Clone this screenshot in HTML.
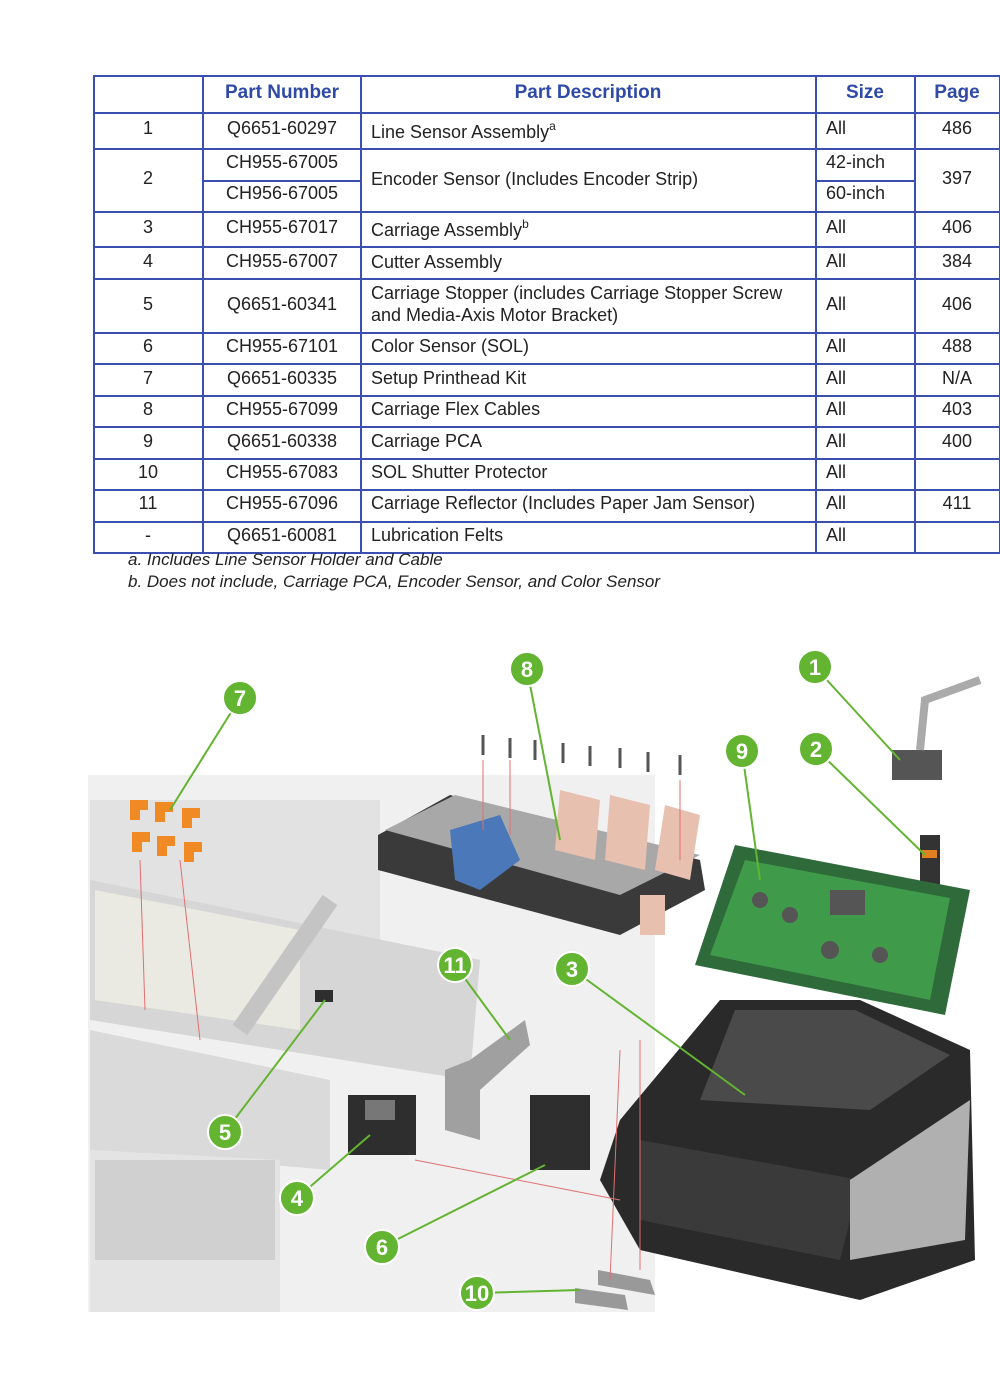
<!DOCTYPE html>
<html><head><meta charset="utf-8"><style>
html,body{margin:0;padding:0;background:#fff;width:1000px;height:1392px;overflow:hidden}
svg{display:block}
.h{font:bold 19px "Liberation Sans",sans-serif;fill:#2f4aa6}
.t{font:18px "Liberation Sans",sans-serif;fill:#222}
.n{font:italic 17px "Liberation Sans",sans-serif;fill:#222}
.c{font:bold 22px "Liberation Sans",sans-serif;fill:#fff}
</style></head><body>
<svg width="1000" height="1392" viewBox="0 0 1000 1392">
<g stroke="#3a4fb0" stroke-width="2" fill="none">
<rect x="94" y="76" width="906" height="477"/>
<line x1="203" y1="76" x2="203" y2="553"/><line x1="361" y1="76" x2="361" y2="553"/>
<line x1="816" y1="76" x2="816" y2="553"/><line x1="915" y1="76" x2="915" y2="553"/>
<line x1="94" y1="113" x2="1000" y2="113"/><line x1="94" y1="149" x2="1000" y2="149"/>
<line x1="203" y1="181" x2="361" y2="181"/><line x1="816" y1="181" x2="915" y2="181"/>
<line x1="94" y1="212" x2="1000" y2="212"/><line x1="94" y1="247" x2="1000" y2="247"/>
<line x1="94" y1="279" x2="1000" y2="279"/><line x1="94" y1="333" x2="1000" y2="333"/>
<line x1="94" y1="364" x2="1000" y2="364"/><line x1="94" y1="396" x2="1000" y2="396"/>
<line x1="94" y1="427" x2="1000" y2="427"/><line x1="94" y1="459" x2="1000" y2="459"/>
<line x1="94" y1="490" x2="1000" y2="490"/><line x1="94" y1="522" x2="1000" y2="522"/>
</g>
<text class="h" x="282" y="98" text-anchor="middle">Part Number</text>
<text class="h" x="588" y="98" text-anchor="middle">Part Description</text>
<text class="h" x="865" y="98" text-anchor="middle">Size</text>
<text class="h" x="957" y="98" text-anchor="middle">Page</text>
<g class="t">
<text x="148" y="134" text-anchor="middle">1</text><text x="282" y="134" text-anchor="middle">Q6651-60297</text><text x="371" y="138">Line Sensor Assembly<tspan font-size="12" dy="-8">a</tspan></text><text x="826" y="134">All</text><text x="957" y="134" text-anchor="middle">486</text>
<text x="148" y="184" text-anchor="middle">2</text><text x="282" y="168" text-anchor="middle">CH955-67005</text><text x="282" y="199" text-anchor="middle">CH956-67005</text><text x="371" y="185">Encoder Sensor (Includes Encoder Strip)</text><text x="826" y="168">42-inch</text><text x="826" y="199">60-inch</text><text x="957" y="184" text-anchor="middle">397</text>
<text x="148" y="233" text-anchor="middle">3</text><text x="282" y="233" text-anchor="middle">CH955-67017</text><text x="371" y="236">Carriage Assembly<tspan font-size="12" dy="-8">b</tspan></text><text x="826" y="233">All</text><text x="957" y="233" text-anchor="middle">406</text>
<text x="148" y="267" text-anchor="middle">4</text><text x="282" y="267" text-anchor="middle">CH955-67007</text><text x="371" y="268">Cutter Assembly</text><text x="826" y="267">All</text><text x="957" y="267" text-anchor="middle">384</text>
<text x="148" y="310" text-anchor="middle">5</text><text x="282" y="310" text-anchor="middle">Q6651-60341</text><text x="371" y="299">Carriage Stopper (includes Carriage Stopper Screw</text><text x="371" y="321">and Media-Axis Motor Bracket)</text><text x="826" y="310">All</text><text x="957" y="310" text-anchor="middle">406</text>
<text x="148" y="352" text-anchor="middle">6</text><text x="282" y="352" text-anchor="middle">CH955-67101</text><text x="371" y="352">Color Sensor (SOL)</text><text x="826" y="352">All</text><text x="957" y="352" text-anchor="middle">488</text>
<text x="148" y="384" text-anchor="middle">7</text><text x="282" y="384" text-anchor="middle">Q6651-60335</text><text x="371" y="384">Setup Printhead Kit</text><text x="826" y="384">All</text><text x="957" y="384" text-anchor="middle">N/A</text>
<text x="148" y="415" text-anchor="middle">8</text><text x="282" y="415" text-anchor="middle">CH955-67099</text><text x="371" y="415">Carriage Flex Cables</text><text x="826" y="415">All</text><text x="957" y="415" text-anchor="middle">403</text>
<text x="148" y="447" text-anchor="middle">9</text><text x="282" y="447" text-anchor="middle">Q6651-60338</text><text x="371" y="447">Carriage PCA</text><text x="826" y="447">All</text><text x="957" y="447" text-anchor="middle">400</text>
<text x="148" y="478" text-anchor="middle">10</text><text x="282" y="478" text-anchor="middle">CH955-67083</text><text x="371" y="478">SOL Shutter Protector</text><text x="826" y="478">All</text>
<text x="148" y="509" text-anchor="middle">11</text><text x="282" y="509" text-anchor="middle">CH955-67096</text><text x="371" y="509">Carriage Reflector (Includes Paper Jam Sensor)</text><text x="826" y="509">All</text><text x="957" y="509" text-anchor="middle">411</text>
<text x="148" y="541" text-anchor="middle">-</text><text x="282" y="541" text-anchor="middle">Q6651-60081</text><text x="371" y="541">Lubrication Felts</text><text x="826" y="541">All</text>
</g>
<text class="n" x="128" y="565">a. Includes Line Sensor Holder and Cable</text>
<text class="n" x="128" y="587">b. Does not include, Carriage PCA, Encoder Sensor, and Color Sensor</text>

<g>
<rect x="88" y="775" width="567" height="537" fill="#f0f0f0"/>
<polygon points="90,800 380,800 380,1000 90,1000" fill="#e2e2e2"/>
<polygon points="90,880 480,960 470,1080 90,1020" fill="#d6d6d6"/>
<polygon points="95,890 300,930 300,1030 95,1000" fill="#eaeae2"/>
<polygon points="90,1030 330,1080 330,1170 90,1150" fill="#dadada"/>
<polygon points="90,1150 280,1160 280,1312 90,1312" fill="#e4e4e4"/>
<path d="M330,900 L240,1030" stroke="#c4c4c4" stroke-width="18" fill="none"/>
<rect x="95" y="1160" width="180" height="100" fill="#d0d0d0"/>
</g>
<g fill="#f08a24">
<path d="M130,800h18v10h-8v10h-10z"/><path d="M155,802h18v10h-8v10h-10z"/><path d="M182,808h18v10h-8v10h-10z"/>
<path d="M132,832h18v10h-8v10h-10z"/><path d="M157,836h18v10h-8v10h-10z"/><path d="M184,842h18v10h-8v10h-10z"/>
</g>
<g stroke="#555" stroke-width="3">
<line x1="483" y1="735" x2="483" y2="755"/><line x1="510" y1="738" x2="510" y2="758"/><line x1="535" y1="740" x2="535" y2="760"/><line x1="563" y1="743" x2="563" y2="763"/><line x1="590" y1="746" x2="590" y2="766"/><line x1="620" y1="748" x2="620" y2="768"/><line x1="648" y1="752" x2="648" y2="772"/><line x1="680" y1="755" x2="680" y2="775"/>
</g>
<polygon points="378,835 450,795 700,860 705,890 620,935 378,870" fill="#3a3a3a"/>
<polygon points="385,830 455,795 700,855 620,895" fill="#a8a8a8"/>
<polygon points="450,830 500,815 520,860 480,890 455,880" fill="#4a78b8"/>
<g fill="#e8c0b0"><polygon points="560,790 600,800 595,860 555,850"/><polygon points="610,795 650,805 645,870 605,860"/><polygon points="665,805 700,815 690,880 655,870"/><rect x="640" y="895" width="25" height="40"/></g>
<rect x="892" y="750" width="50" height="30" fill="#555"/><path d="M920,750 L925,700 L980,680" stroke="#aaa" stroke-width="8" fill="none"/>
<rect x="920" y="835" width="20" height="50" fill="#333"/><rect x="922" y="850" width="15" height="8" fill="#e08020"/>
<polygon points="735,845 970,890 945,1015 695,965" fill="#2f6a3a"/>
<polygon points="745,860 950,898 930,1000 710,955" fill="#3f9a4a"/>
<g fill="#555"><circle cx="760" cy="900" r="8"/><circle cx="790" cy="915" r="8"/><circle cx="830" cy="950" r="9"/><circle cx="880" cy="955" r="8"/><rect x="830" y="890" width="35" height="25"/></g>
<polygon points="720,1000 860,1000 970,1050 975,1260 860,1300 640,1250 600,1180 620,1120" fill="#2a2a2a"/>
<polygon points="735,1010 855,1010 950,1055 870,1110 700,1100" fill="#4a4a4a"/>
<polygon points="640,1140 860,1180 840,1260 640,1220" fill="#3a3a3a"/>
<polygon points="850,1180 970,1100 965,1240 850,1260" fill="#b0b0b0"/>
<polygon points="470,1060 525,1020 530,1045 480,1090 480,1140 445,1130 445,1070" fill="#a0a0a0"/>
<rect x="530" y="1095" width="60" height="75" fill="#2e2e2e"/>
<rect x="348" y="1095" width="68" height="60" fill="#2e2e2e"/><rect x="365" y="1100" width="30" height="20" fill="#777"/>
<rect x="315" y="990" width="18" height="12" fill="#2e2e2e"/>
<polygon points="575,1288 625,1295 628,1310 575,1303" fill="#999"/><polygon points="598,1270 650,1280 655,1295 598,1285" fill="#999"/>
<g stroke="#e07070" stroke-width="1" fill="none">
<line x1="483" y1="760" x2="483" y2="830"/><line x1="510" y1="760" x2="510" y2="835"/><line x1="680" y1="780" x2="680" y2="860"/>
<line x1="140" y1="860" x2="145" y2="1010"/><line x1="180" y1="860" x2="200" y2="1040"/>
<line x1="640" y1="1040" x2="640" y2="1270"/><line x1="620" y1="1050" x2="610" y2="1280"/>
<line x1="415" y1="1160" x2="620" y2="1200"/>
</g>
<g stroke="#62b431" stroke-width="2">
<line x1="240" y1="698" x2="170" y2="810"/><line x1="527" y1="669" x2="560" y2="840"/><line x1="815" y1="667" x2="900" y2="760"/>
<line x1="742" y1="751" x2="760" y2="880"/><line x1="816" y1="749" x2="925" y2="855"/><line x1="455" y1="965" x2="510" y2="1040"/>
<line x1="572" y1="969" x2="745" y2="1095"/><line x1="225" y1="1132" x2="325" y2="1000"/><line x1="297" y1="1198" x2="370" y2="1135"/>
<line x1="382" y1="1247" x2="545" y2="1165"/><line x1="477" y1="1293" x2="580" y2="1290"/>
</g>
<g fill="#62b431" stroke="#fff" stroke-width="2">
<circle cx="240" cy="698" r="17"/><circle cx="527" cy="669" r="17"/><circle cx="815" cy="667" r="17"/><circle cx="742" cy="751" r="17"/><circle cx="816" cy="749" r="17"/><circle cx="455" cy="965" r="17"/><circle cx="572" cy="969" r="17"/><circle cx="225" cy="1132" r="17"/><circle cx="297" cy="1198" r="17"/><circle cx="382" cy="1247" r="17"/><circle cx="477" cy="1293" r="17"/>
</g>
<g class="c" text-anchor="middle">
<text x="240" y="706">7</text><text x="527" y="677">8</text><text x="815" y="675">1</text><text x="742" y="759">9</text><text x="816" y="757">2</text><text x="455" y="973">11</text><text x="572" y="977">3</text><text x="225" y="1140">5</text><text x="297" y="1206">4</text><text x="382" y="1255">6</text><text x="477" y="1301">10</text>
</g>
</svg>
</body></html>
